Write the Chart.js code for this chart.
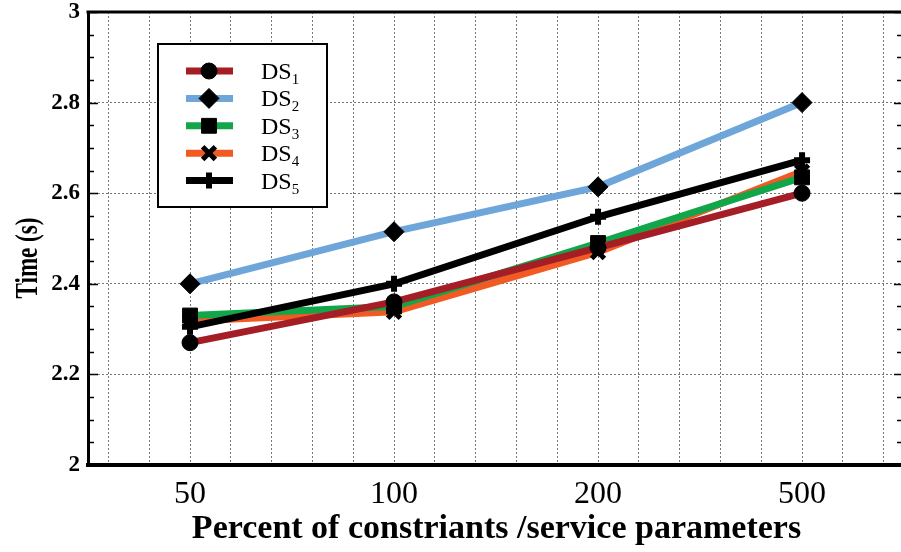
<!DOCTYPE html>
<html>
<head>
<meta charset="utf-8">
<script src="https://cdn.jsdelivr.net/npm/chart.js@4.4.0/dist/chart.umd.min.js"></script>
<style>
  html, body { margin: 0; padding: 0; background: #fff; }
</style>
</head>
<body>
<canvas id="timeChart" width="901" height="552"></canvas>
<script>
// x positions are category indexes, y values are times in seconds
const categories = ['50', '100', '200', '500'];
const ds1 = [2.27, 2.36, 2.48, 2.60];
const ds2 = [2.40, 2.515, 2.614, 2.80];
const ds3 = [2.33, 2.35, 2.49, 2.635];
const ds4 = [2.318, 2.338, 2.47, 2.648];
const ds5 = [2.305, 2.40, 2.548, 2.673];
const yTicks = [2, 2.2, 2.4, 2.6, 2.8, 3];
const seriesNames = ['DS1', 'DS2', 'DS3', 'DS4', 'DS5'];

const serif = '"Liberation Serif", "Times New Roman", serif';

const styles = [
  { color: '#a51d25', marker: 'circle', radius: 8, bw: 1, order: 1 },
  { color: '#6ea6da', marker: 'rectRot', radius: 10, bw: 1, order: 4 },
  { color: '#12a64b', marker: 'rect', radius: 10.5, bw: 1, order: 2 },
  { color: '#f15a22', marker: 'crossRot', radius: 9, bw: 5, order: 3 },
  { color: '#000000', marker: 'cross', radius: 8, bw: 6, order: 0 }
];

const toPoints = vals => vals.map((v, i) => ({ x: i, y: v }));
const allSeries = [ds1, ds2, ds3, ds4, ds5];

const datasets = allSeries.map((vals, i) => ({
  label: seriesNames[i],
  data: toPoints(vals),
  borderColor: styles[i].color,
  borderWidth: 7,
  pointStyle: styles[i].marker,
  pointRadius: styles[i].radius,
  pointHoverRadius: styles[i].radius,
  pointBorderWidth: styles[i].bw,
  pointBackgroundColor: '#000',
  pointBorderColor: '#000',
  order: styles[i].order,
  tension: 0
}));

const isMajorY = v => yTicks.some(t => Math.abs(t - v) < 1e-6);

// frame, inward ticks, titles and the boxed legend
const decorations = {
  id: 'decorations',
  afterDraw(chart) {
    const ctx = chart.ctx;
    const area = chart.chartArea;
    const y = chart.scales.y;

    ctx.save();
    ctx.strokeStyle = '#000';
    ctx.lineWidth = 3;
    ctx.beginPath();
    ctx.moveTo(area.left - 1.5, area.top);
    ctx.lineTo(area.right, area.top);
    ctx.stroke();

    // minor/major ticks pointing into the plot
    ctx.lineWidth = 1.5;
    for (let k = 0; k <= 20; k++) {
      const v = 2 + k * 0.05;
      const py = Math.round(y.getPixelForValue(v)) + 0.5;
      const major = isMajorY(v);
      ctx.beginPath();
      ctx.moveTo(area.left, py);
      ctx.lineTo(area.left + (major ? 10 : 6), py);
      ctx.moveTo(area.right, py);
      ctx.lineTo(area.right - (major ? 7 : 4), py);
      ctx.stroke();
    }

    // axis titles
    ctx.fillStyle = '#000';
    ctx.font = 'bold 34px ' + serif;
    ctx.textAlign = 'center';
    ctx.textBaseline = 'alphabetic';
    ctx.fillText('Percent of constriants /service parameters', (area.left + area.right) / 2 + 2, 538);

    ctx.save();
    ctx.translate(37, 258);
    ctx.rotate(-Math.PI / 2);
    ctx.scale(0.72, 1);
    ctx.font = 'bold 32px ' + serif;
    ctx.fillText('Time (s)', 0, 0);
    ctx.restore();

    // legend box
    const bx = area.left + 70, by = area.top + 32, bw = 169, bh = 163;
    ctx.fillStyle = '#fff';
    ctx.fillRect(bx, by, bw, bh);
    ctx.lineWidth = 2;
    ctx.strokeStyle = '#000';
    ctx.strokeRect(bx, by, bw, bh);

    chart.data.datasets.forEach((ds, i) => {
      const ry = by + 27 + i * 27.4;
      const lx0 = bx + 28, lx1 = bx + 75, mx = bx + 51;
      ctx.strokeStyle = ds.borderColor;
      ctx.lineWidth = 7;
      ctx.beginPath();
      ctx.moveTo(lx0, ry);
      ctx.lineTo(lx1, ry);
      ctx.stroke();

      ctx.fillStyle = '#000';
      ctx.strokeStyle = '#000';
      ctx.lineWidth = ds.pointBorderWidth;
      Chart.helpers.drawPoint(ctx, {
        pointStyle: ds.pointStyle,
        radius: ds.pointRadius,
        borderWidth: ds.pointBorderWidth,
        rotation: 0
      }, mx, ry);

      ctx.fillStyle = '#000';
      ctx.textAlign = 'left';
      ctx.textBaseline = 'alphabetic';
      ctx.font = '24px ' + serif;
      const name = ds.label.slice(0, 2);
      const sub = ds.label.slice(2);
      ctx.fillText(name, bx + 103, ry + 8);
      const w = ctx.measureText(name).width;
      ctx.font = '15px ' + serif;
      ctx.fillText(sub, bx + 103 + w, ry + 13);
    });
    ctx.restore();
  }
};

new Chart(document.getElementById('timeChart'), {
  type: 'line',
  data: { datasets },
  options: {
    responsive: false,
    animation: false,
    devicePixelRatio: 1,
    layout: { autoPadding: false, padding: { top: 12, right: 0, left: 0, bottom: 0 } },
    plugins: {
      legend: { display: false },
      tooltip: { enabled: false }
    },
    scales: {
      x: {
        type: 'linear',
        min: -0.5,
        max: 3.485,
        afterBuildTicks(scale) {
          const ticks = [];
          for (let k = -2; k <= 17; k++) ticks.push({ value: Math.round(k * 2) / 10 });
          scale.ticks = ticks;
        },
        afterFit(scale) {
          scale.height = 87;
          scale.paddingLeft = 0;
          scale.paddingRight = 0;
        },
        grid: { color: '#777', lineWidth: 1, drawTicks: false },
        border: { display: true, color: '#000', width: 4, dash: [2, 2] },
        ticks: {
          autoSkip: false,
          maxRotation: 0,
          padding: 10,
          color: '#000',
          font: { family: serif, size: 32 },
          callback: v => (Number.isInteger(v) ? categories[v] : '')
        }
      },
      y: {
        min: 2,
        max: 3,
        afterBuildTicks(scale) {
          const ticks = [];
          for (let k = 0; k <= 20; k++) ticks.push({ value: Math.round((2 + k * 0.05) * 100) / 100 });
          scale.ticks = ticks;
        },
        afterFit(scale) {
          scale.width = 88;
          scale.paddingTop = 0;
          scale.paddingBottom = 0;
        },
        grid: {
          color: c => (c.tick && isMajorY(c.tick.value) ? '#777' : 'rgba(0,0,0,0)'),
          lineWidth: 1,
          drawTicks: false
        },
        border: { display: true, color: '#000', width: 3, dash: [2, 2] },
        ticks: {
          autoSkip: false,
          padding: 8,
          color: '#000',
          font: { family: serif, size: 23, weight: 'bold' },
          callback: v => (isMajorY(v) ? String(v) : '')
        }
      }
    }
  },
  plugins: [decorations]
});
</script>
</body>
</html>
